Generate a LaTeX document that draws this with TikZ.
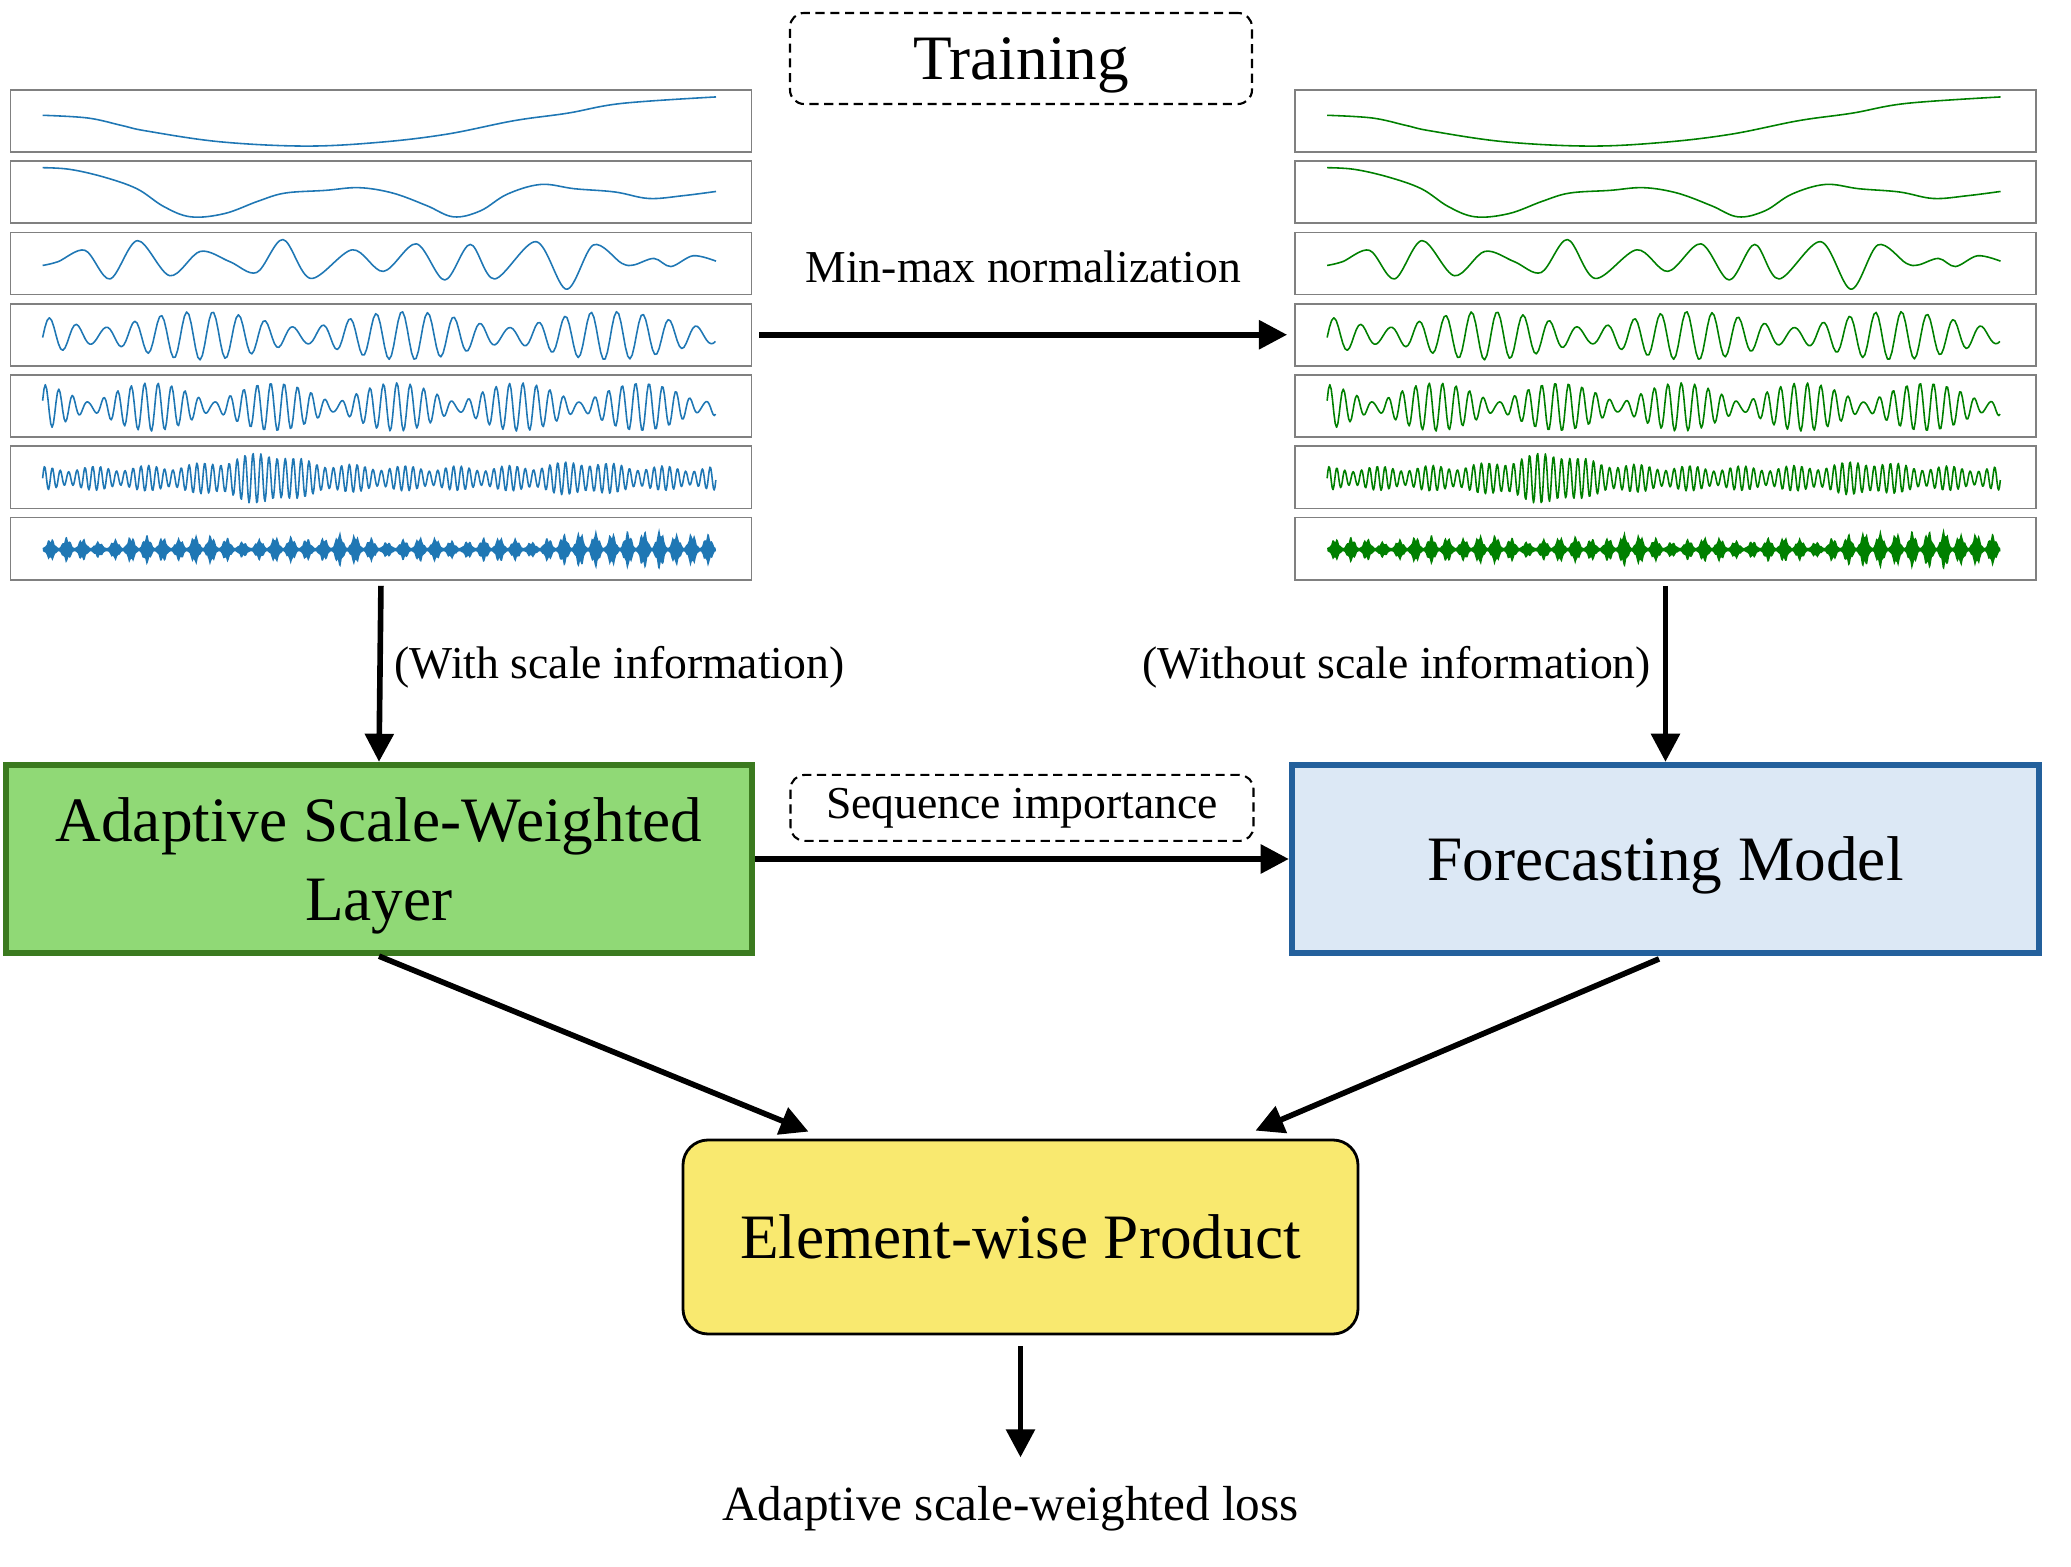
\documentclass[tikz,border=0pt]{standalone}
\usepackage{fontspec}
\setmainfont{Liberation Serif}
\usetikzlibrary{positioning,arrows.meta}

\definecolor{wblue}{RGB}{31,119,180}
\definecolor{wgreen}{RGB}{0,128,0}
\definecolor{aswfill}{RGB}{144,217,118}
\definecolor{aswline}{RGB}{59,122,31}
\definecolor{fmfill}{RGB}{220,232,245}
\definecolor{fmline}{RGB}{35,96,156}
\definecolor{ewpfill}{RGB}{249,233,111}

\tikzset{
  panel/.style={draw=gray, line width=0.5pt, minimum width=7.41cm, minimum height=0.621cm, inner sep=0pt},
  row/.style={shift={(#1.south west)}, xshift=0.33cm, yshift=0.04cm},
  wave/.style={line width=0.45pt, line join=round},
  arr/.style={line width=1.6pt, -{Triangle[length=8pt,width=8pt]}},
  dashbox/.style={draw, rounded corners=4pt, line width=0.6pt, dash pattern=on 2.6pt off 1.6pt},
  bigbox/.style={minimum width=7.46cm, minimum height=1.88cm, line width=1.8pt, align=center, font=\fontsize{18}{22.5}\selectfont},
  lbl/.style={font=\fontsize{13}{15}\selectfont},
}

\begin{document}
\begin{tikzpicture}[
    declare function={
      wfour(\t)=0.5+0.3*sin(360*frac(25*\t)-30)+0.15*sin(360*frac(28.3*\t)+50);
      wfive(\t)=0.5+0.27*sin(360*frac(48*\t))+0.18*sin(360*frac(53.5*\t)+40);
      wsix(\t)=0.5+(0.16+0.28/(1+((\t-0.33)/0.06)^2)+0.12/(1+((\t-0.8)/0.05)^2))*sin(360*frac(84*\t))+0.05*sin(360*frac(97*\t));
      envseven(\t)=0.03+abs(sin(360*frac(21*\t)))^2*(0.5+0.5*abs(sin(360*frac(4.7*\t)+30)))*(0.75+0.25*sin(360*frac(150*\t)))*(0.22+0.3/(1+((\t-0.83)/0.03)^2)+0.34/(1+((\t-0.935)/0.025)^2)+0.14/(1+((\t-0.43)/0.03)^2)+0.12/(1+((\t-0.2)/0.04)^2));
    }]
    \useasboundingbox (0,0) rectangle (20.71,15.66);

    % 训练
    \node[dashbox, minimum width=4.62cm, minimum height=0.91cm, text depth=0pt, font=\fontsize{18}{21}\selectfont] (train) at (10.21,15.075) {Training};

    % 分量面板
    \foreach \k in {1,...,7} {
      \node[panel] (L\k) at (3.81,{14.4515-0.713*(\k-1)}) {};
      \node[panel] (R\k) at (16.655,{14.4515-0.713*(\k-1)}) {};
    }

    % 波形 (左: 原始, 右: 归一化)
    \foreach \s/\c in {L/wblue,R/wgreen} {
      \begin{scope}[wave, draw=\c, x=6.734cm, y=0.54cm]
        \draw[row=\s1] plot[smooth, tension=0.6] coordinates {(0,.62) (.067,.57) (.118,.43) (.154,.33) (.263,.13) (.39,.05) (.5,.12) (.6,.27) (.7,.52) (.78,.66) (.86,.84) (1,.96)};
        \draw[row=\s2] plot[smooth, tension=0.6] coordinates {(0,.97) (.04,.94) (.09,.8) (.14,.58) (.18,.25) (.22,.06) (.27,.12) (.32,.35) (.36,.5) (.42,.55) (.47,.6) (.52,.5) (.57,.27) (.61,.06) (.65,.17) (.69,.48) (.74,.66) (.79,.58) (.85,.52) (.9,.4) (.95,.45) (1,.53)};
        \draw[row=\s3] plot[smooth, tension=0.55] coordinates {(0,.48) (.023,.55) (.063,.76) (.1,.23) (.141,.94) (.189,.29) (.234,.74) (.278,.55) (.318,.35) (.357,.96) (.398,.24) (.46,.77) (.506,.37) (.555,.88) (.597,.21) (.635,.87) (.671,.23) (.733,.92) (.778,.04) (.818,.86) (.86,.52) (.878,.49) (.908,.61) (.933,.46) (.966,.66) (1,.56)};
        \draw[row=\s4] plot[domain=0:1, samples=300] (\x,{wfour(\x)});
        \draw[row=\s5] plot[domain=0:1, samples=500] (\x,{wfive(\x)});
        \draw[row=\s6] plot[domain=0:1, samples=800] (\x,{wsix(\x)});
        \fill[row=\s7, fill=\c] plot[domain=0:1, samples=500] (\x,{0.5+envseven(\x)}) -- plot[domain=1:0, samples=500] (\x,{0.5-envseven(\x)}) -- cycle;
      \end{scope}
    }

    % 模块
    \node[bigbox, draw=aswline, fill=aswfill, text depth=0pt] (ASW) at (3.79,7.07) {Adaptive Scale-Weighted\\Layer};
    \node[bigbox, draw=fmline, fill=fmfill, minimum width=7.47cm, text depth=0pt] (FM) at (16.655,7.07) {Forecasting Model};
    \node[bigbox, draw=black, line width=0.8pt, fill=ewpfill, rounded corners=0.25cm, minimum width=6.75cm, minimum height=1.94cm] (EWP) at (10.205,3.29) {Element-wise Product};
    \node[below=1.39cm of EWP, xshift=-0.1cm, font=\fontsize{14}{17}\selectfont] (loss) {Adaptive scale-weighted loss};

    % 箭头
    \draw[arr, shorten <=2pt, shorten >=2pt] (L4.east) -- node[lbl, above=0.37cm] (mm) {Min-max normalization} (R4.west);
    \draw[arr, shorten <=1.5pt] (L7.south) -- node[lbl, right, pos=0.48] (wsi) {(With scale information)} (ASW.north);
    \draw[arr, shorten <=1.5pt] (R7.south) -- node[lbl, left, pos=0.48] (wosi) {(Without scale information)} (FM.north);
    \draw[arr] (ASW.east) -- node[dashbox, lbl, above=0.17cm, minimum width=4.63cm, minimum height=0.66cm] (seq) {Sequence importance} (FM.west);
    \draw[arr] (ASW.south) -- ([xshift=-2.12cm,yshift=0.07cm]EWP.north);
    \draw[arr, shorten <=2pt] (FM.south) -- ([xshift=2.35cm,yshift=0.08cm]EWP.north);
    \draw[arr, shorten <=0.11cm, shorten >=0.17cm] (EWP.south) -- (EWP.south |- loss.north);
\end{tikzpicture}
\end{document}
